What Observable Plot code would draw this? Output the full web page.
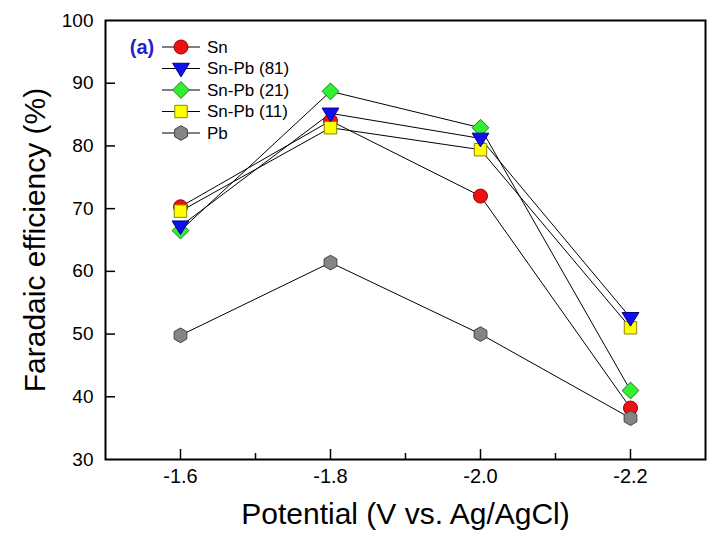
<!DOCTYPE html>
<html>
<head>
<meta charset="utf-8">
<script src="https://cdn.jsdelivr.net/npm/d3@7"></script>
<script src="https://cdn.jsdelivr.net/npm/@observablehq/plot@0.6"></script>
<style>
  html, body { margin: 0; padding: 0; background: white; }
  #wrap { position: relative; width: 717px; height: 539px; }
  #legend { position: absolute; left: 0; top: 0; }
</style>
</head>
<body>
<div id="wrap"></div>
<script>
// ---- data ----
const potentials = [-1.6, -1.8, -2.0, -2.2];
const seriesNames = ["Sn", "Sn-Pb (81)", "Sn-Pb (21)", "Sn-Pb (11)", "Pb"];
const sn     = [70.3, 84.0, 72.0, 38.2];
const snPb81 = [67.2, 85.2, 81.2, 52.6];
const snPb21 = [66.5, 88.7, 82.9, 41.0];
const snPb11 = [69.6, 82.9, 79.4, 51.0];
const pb     = [49.8, 61.4, 50.0, 36.6];
const xTickValues = [-1.6, -1.8, -2.0, -2.2];
const xMinorTicks = [-1.7, -1.9, -2.1];
const yTickValues = [30, 40, 50, 60, 70, 80, 90, 100];
const panelLabel = "(a)";
const xTitle = "Potential (V vs. Ag/AgCl)";
const yTitle = "Faradaic efficiency (%)";

// ---- styles ----
const fills   = ["#ee1111", "#1010ee", "#33ee33", "#ffff00", "#858585"];
const strokes = ["#990000", "#000088", "#118811", "#888800", "#444444"];

const triDown = { draw(ctx, size) { const r = Math.sqrt(size / Math.PI);
  ctx.moveTo(-r * 1.2, -r * 0.75); ctx.lineTo(r * 1.2, -r * 0.75); ctx.lineTo(0, r * 1.2); ctx.closePath(); } };
const diamond = { draw(ctx, size) { const r = Math.sqrt(size / Math.PI) * 1.2;
  ctx.moveTo(0, -r); ctx.lineTo(r, 0); ctx.lineTo(0, r); ctx.lineTo(-r, 0); ctx.closePath(); } };
const hexagon = { draw(ctx, size) { const r = Math.sqrt(size / Math.PI) * 1.05;
  for (let i = 0; i < 6; i++) { const a = Math.PI / 2 + i * Math.PI / 3;
    const px = r * Math.cos(a), py = r * Math.sin(a);
    if (i === 0) ctx.moveTo(px, py); else ctx.lineTo(px, py); }
  ctx.closePath(); } };
const symbols = [d3.symbolCircle, triDown, diamond, d3.symbolSquare, hexagon];

const values = [sn, snPb81, snPb21, snPb11, pb];
const rows = [];
values.forEach((arr, i) => arr.forEach((v, j) => rows.push({ series: i, name: seriesNames[i], x: potentials[j], y: v })));
const drawOrder = [0, 2, 3, 1, 4];

const W = 717, H = 539, mL = 105, mR = 12, mT = 20, mB = 80;
const plotW = W - mL - mR, plotH = H - mT - mB;

const marks = [];
for (let i = 0; i < values.length; i++) {
  marks.push(Plot.line(rows.filter(d => d.series === i), { x: "x", y: "y", stroke: "black", strokeWidth: 1 }));
}
for (const i of drawOrder) {
  marks.push(Plot.dot(rows.filter(d => d.series === i), {
    x: "x", y: "y", r: 7, symbol: () => symbols[i], fill: fills[i], stroke: strokes[i], strokeWidth: 1
  }));
}

const plot = Plot.plot({
  width: W, height: H, marginLeft: mL, marginRight: mR, marginTop: mT, marginBottom: mB,
  style: { fontFamily: "'Liberation Sans', Arial, sans-serif", background: "white", color: "black" },
  x: { domain: [-1.5, -2.3] },
  y: { domain: [30, 100] },
  symbol: { type: "identity" },
  marks: [
    Plot.tickX(xTickValues, { x: d => d, insetTop: plotH - 10, stroke: "black", strokeWidth: 1.5 }),
    Plot.tickX(xMinorTicks, { x: d => d, insetTop: plotH - 6, stroke: "black", strokeWidth: 1.5 }),
    Plot.tickY(yTickValues.slice(1, -1), { y: d => d, insetRight: plotW - 10, stroke: "black", strokeWidth: 1.5 }),
    Plot.axisX(xTickValues, { tickSize: 0, tickPadding: 9, fontSize: 20, tickFormat: d => d.toFixed(1), label: null }),
    Plot.axisY(yTickValues, { tickSize: 0, tickPadding: 12, fontSize: 19, label: null }),
    Plot.text([xTitle], { frameAnchor: "bottom", dy: 55, lineAnchor: "middle", textAnchor: "middle", text: d => d, fontSize: 30, fill: "black" }),
    Plot.text([yTitle], { frameAnchor: "left", dx: -70, rotate: -90, lineAnchor: "middle", textAnchor: "middle", text: d => d, fontSize: 30, fill: "black" }),
    ...marks,
    Plot.frame({ stroke: "black", strokeWidth: 2 })
  ]
});

const wrap = document.getElementById("wrap");
wrap.appendChild(plot);

// legend overlay
const legend = d3.select(wrap).append("svg").attr("id", "legend").attr("width", W).attr("height", H)
  .style("font-family", "'Liberation Sans', Arial, sans-serif");
legend.append("text").attr("x", 142).attr("y", 47).attr("dy", "0.35em").attr("text-anchor", "middle")
  .attr("font-size", 20).attr("font-weight", "bold").attr("fill", "#2222cc").text(panelLabel);
seriesNames.forEach((name, i) => {
  const y = 47 + i * 21.5;
  legend.append("line").attr("x1", 162).attr("x2", 200).attr("y1", y).attr("y2", y).attr("stroke", "black");
  legend.append("path").attr("transform", `translate(181,${y})`)
    .attr("d", d3.symbol(symbols[i], Math.PI * 49)())
    .attr("fill", fills[i]).attr("stroke", strokes[i]);
  legend.append("text").attr("x", 207).attr("y", y).attr("dy", "0.35em").attr("font-size", 17).text(name);
});
</script>
</body>
</html>
